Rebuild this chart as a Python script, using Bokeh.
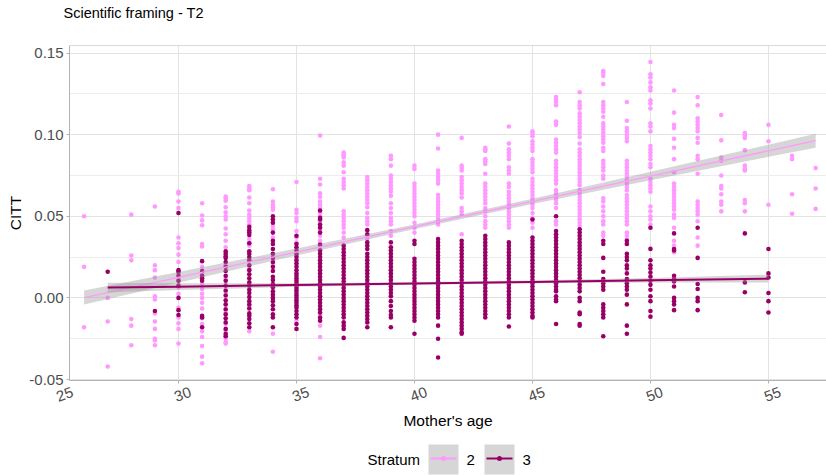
import math
from bokeh.plotting import figure
from bokeh.layouts import column
from bokeh.models import (ColumnDataSource, Span, FixedTicker, NumeralTickFormatter, Range1d,
                          LinearAxis)
from bokeh.core.properties import value
from bokeh.embed import file_html
from bokeh.resources import INLINE

# CITT values by mother's age, stratum 2
citt_stratum2 = {
    26: [0.050, 0.019, -0.018],
    27: [0.000, -0.0145, -0.042],
    28: [0.051, 0.026, 0.023, -0.013, -0.017, -0.029],
    29: [0.056, 0.020, 0.017, 0.0125, 0.001, -0.001, -0.0095, -0.0145, -0.019, -0.025, -0.026, -0.029],
    30: [0.065, 0.064, 0.059, 0.055, 0.037, 0.0335, 0.0305, 0.0265, 0.022, 0.0155, 0.0125, 0.0105,
         0.0065, 0.0025, -0.006, -0.012, -0.0155, -0.019, -0.028],
    31: [0.058, 0.0505, 0.0475, 0.0445, 0.033, 0.0315, 0.019, 0.015, 0.0115, 0.0085, 0.0055, 0.0025,
         0.0, -0.003, -0.0065, -0.0125, -0.016, -0.0205, -0.024, -0.0295, -0.036, -0.040],
    32: [0.062, 0.061, 0.0595, 0.0555, 0.0525, 0.050, 0.048, 0.0425, 0.039, 0.035, 0.031, 0.020,
         0.012, 0.003, -0.004, -0.009, -0.016, -0.020, -0.023, -0.025, -0.027, -0.028],
    33: [0.0685, 0.067, 0.066, 0.0615, 0.058, 0.0535, 0.051, 0.049, 0.047, 0.045, 0.036, 0.034,
         0.032, 0.018, 0.008, -0.005, -0.0205],
    34: [0.0665, 0.059, 0.057, 0.0555, 0.054, 0.044, 0.042, 0.037, 0.025, 0.021, 0.0, -0.022, -0.033],
    35: [0.071, 0.054, 0.052, 0.049, 0.047, 0.041, 0.037, 0.034, 0.026, 0.021, -0.014],
    36: [0.0995, 0.073, 0.0695, 0.064, 0.062, 0.059, 0.057, 0.055, 0.052, 0.050, 0.047, 0.044,
         0.041, 0.038, 0.035, 0.0335, 0.030, -0.010, -0.017, -0.024, -0.037],
    37: [0.089, 0.088, 0.087, 0.086, 0.083, 0.081, 0.077, 0.073, 0.071, 0.069, 0.067, 0.053,
         0.051, 0.049, 0.047, 0.045, 0.043, 0.040, 0.037],
    38: [0.074, 0.072, 0.070, 0.068, 0.066, 0.064, 0.062, 0.060, 0.058, 0.0555, 0.052, 0.049,
         0.047, 0.045, 0.038, 0.036],
    39: [0.087, 0.085, 0.081, 0.075, 0.073, 0.071, 0.069, 0.067, 0.065, 0.0625, 0.058, 0.055,
         0.052, 0.049, 0.047, 0.045, 0.041, 0.038],
    40: [0.081, 0.079, 0.070, 0.068, 0.066, 0.064, 0.062, 0.060, 0.058, 0.056, 0.054, 0.052,
         0.050, 0.046, 0.043, 0.040],
    41: [0.100, 0.0915, 0.078, 0.076, 0.074, 0.072, 0.070, 0.063, 0.061, 0.059, 0.057, 0.055,
         0.053, 0.051, 0.049, 0.047, 0.045],
    42: [0.098, 0.081, 0.0795, 0.078, 0.074, 0.072, 0.070, 0.068, 0.066, 0.064, 0.0615, 0.055,
         0.053, 0.051, 0.039],
    43: [0.092, 0.091, 0.090, 0.085, 0.0835, 0.082, 0.076, 0.070, 0.068, 0.066, 0.064, 0.062,
         0.060, 0.058, 0.055, 0.053, 0.050, 0.047, 0.045, 0.043],
    44: [0.105, 0.0945, 0.091, 0.089, 0.087, 0.085, 0.080, 0.078, 0.076, 0.070, 0.068, 0.065,
         0.063, 0.061, 0.059, 0.057, 0.055, 0.053, 0.051, 0.049, 0.047, 0.045, 0.043],
    45: [0.102, 0.1005, 0.099, 0.096, 0.094, 0.092, 0.090, 0.085, 0.083, 0.081, 0.079, 0.077,
         0.073, 0.071, 0.069, 0.067, 0.065, 0.063, 0.061, 0.059, 0.057, 0.055, 0.052, 0.049,
         0.046, 0.043],
    46: [0.123, 0.1215, 0.120, 0.118, 0.108, 0.106, 0.097, 0.095, 0.093, 0.091, 0.089, 0.084,
         0.082, 0.080, 0.078, 0.076, 0.074, 0.072, 0.070, 0.066, 0.064, 0.062, 0.060, 0.058,
         0.055, 0.047, 0.045],
    47: [0.126, 0.120, 0.118, 0.116, 0.113, 0.111, 0.109, 0.107, 0.105, 0.103, 0.101, 0.0985,
         0.0945, 0.091, 0.089, 0.087, 0.085, 0.083, 0.081, 0.079, 0.077, 0.075, 0.073, 0.071,
         0.069, 0.066, 0.064, 0.062, 0.060, 0.058, 0.056, 0.054, 0.052, 0.050, 0.048, 0.046, 0.044],
    48: [0.139, 0.138, 0.136, 0.131, 0.120, 0.118, 0.116, 0.114, 0.111, 0.107, 0.105, 0.103,
         0.101, 0.099, 0.097, 0.095, 0.092, 0.090, 0.084, 0.082, 0.080, 0.078, 0.075, 0.073,
         0.061, 0.059, 0.056, 0.053, 0.050, 0.047, 0.045, 0.040, 0.038],
    49: [0.120, 0.1085, 0.104, 0.102, 0.100, 0.098, 0.096, 0.084, 0.082, 0.080, 0.078, 0.076,
         0.074, 0.072, 0.070, 0.068, 0.066, 0.063, 0.061, 0.059, 0.057, 0.055, 0.053, 0.051,
         0.049, 0.047, 0.045, 0.040, 0.038, 0.036, 0.033],
    50: [0.1445, 0.137, 0.135, 0.132, 0.129, 0.127, 0.121, 0.119, 0.116, 0.107, 0.105, 0.102,
         0.093, 0.091, 0.089, 0.087, 0.085, 0.082, 0.080, 0.073, 0.071, 0.069, 0.067, 0.065,
         0.056, 0.053, 0.050, 0.048, 0.045],
    51: [0.127, 0.1135, 0.106, 0.104, 0.0975, 0.092, 0.085, 0.077, 0.070, 0.068, 0.066, 0.064,
         0.062, 0.060, 0.058, 0.056, 0.054, 0.051, 0.049, 0.043, 0.035, 0.032, 0.028],
    52: [0.123, 0.118, 0.110, 0.108, 0.106, 0.104, 0.102, 0.098, 0.095, 0.087, 0.085, 0.076,
         0.059, 0.057, 0.055, 0.053, 0.051, 0.047, 0.037, 0.032],
    53: [0.112, 0.0965, 0.086, 0.084, 0.075, 0.0685, 0.067, 0.0635, 0.059, 0.057, 0.053],
    54: [0.101, 0.0995, 0.098, 0.0905, 0.081, 0.079, 0.078, 0.060, 0.058, 0.053],
    55: [0.106, 0.096, 0.057],
    56: [0.087, 0.085, 0.0635, 0.0515],
    57: [0.0795, 0.067, 0.0545],
}

# CITT values by mother's age, stratum 3
citt_stratum3 = {
    27: [0.016],
    29: [-0.008],
    30: [0.052, 0.017, 0.016, 0.0135, 0.0105, 0.0075, 0.0, -0.0075, -0.0105],
    31: [0.0225, 0.0165, 0.0135, 0.012, 0.0105, -0.011, -0.012, -0.018],
    32: [0.0285, 0.027, 0.0255, 0.0245, 0.022, 0.019, 0.0165, 0.0135, 0.0105, 0.0075, 0.0045,
         0.0015, -0.0015, -0.004, -0.007, -0.010, -0.0125, -0.015, -0.019, -0.022, -0.0235],
    33: [0.0435, 0.0415, 0.040, 0.0385, 0.0335, 0.0285, 0.027, 0.025, 0.023, 0.020, 0.017,
         0.0145, 0.012, 0.0095, 0.0075, 0.005, 0.003, 0.0005, -0.002, -0.004, -0.0065, -0.0095,
         -0.011, -0.013, -0.0155, -0.018],
    34: [0.050, 0.048, 0.046, 0.040, 0.035, 0.033, 0.030, 0.027, 0.0245, 0.022, 0.019, 0.0165,
         0.013, 0.011, 0.0085, 0.0065, 0.004, 0.002, 0.0, -0.002, -0.0045, -0.007, -0.010,
         -0.012, -0.018],
    35: [0.038, 0.033, 0.031, 0.029, 0.027, 0.025, 0.023, 0.021, 0.019, 0.017, 0.015, 0.0135,
         0.012, 0.0105, 0.009, 0.0075, 0.006, 0.0045, 0.003, 0.0015, 0.0, -0.0015, -0.003,
         -0.0045, -0.006, -0.008, -0.010, -0.012, -0.016, -0.019],
    36: [0.0535, 0.049, 0.048, 0.045, 0.043, 0.040, 0.0325, 0.029, 0.027, 0.025, 0.023, 0.021,
         0.019, 0.017, 0.015, 0.013, 0.011, 0.009, 0.007, 0.005, 0.003, 0.001, -0.001, -0.003,
         -0.005, -0.007, -0.009, -0.012, -0.014],
    37: [0.032, 0.030, 0.028, 0.026, 0.024, 0.022, 0.020, 0.018, 0.016, 0.014, 0.012, 0.010,
         0.008, 0.006, 0.004, 0.002, 0.0, -0.002, -0.004, -0.006, -0.008, -0.010, -0.012,
         -0.015, -0.017, -0.019, -0.0245],
    38: [0.0415, 0.039, 0.034, 0.032, 0.030, 0.027, 0.025, 0.023, 0.021, 0.019, 0.017, 0.015,
         0.013, 0.011, 0.009, 0.007, 0.005, 0.003, 0.001, -0.001, -0.003, -0.005, -0.007,
         -0.009, -0.011, -0.013, -0.015, -0.018],
    39: [0.034, 0.031, 0.029, 0.027, 0.025, 0.023, 0.021, 0.019, 0.017, 0.015, 0.013, 0.011,
         0.009, 0.007, 0.005, 0.003, 0.001, -0.002, -0.005, -0.008, -0.0105, -0.012, -0.018],
    40: [0.035, 0.033, 0.024, 0.022, 0.020, 0.018, 0.016, 0.014, 0.012, 0.010, 0.008, 0.006,
         0.004, 0.002, 0.0, -0.002, -0.004, -0.006, -0.008, -0.010, -0.012, -0.014, -0.022],
    41: [0.036, 0.034, 0.032, 0.030, 0.028, 0.026, 0.024, 0.022, 0.020, 0.018, 0.016, 0.014,
         0.012, 0.010, 0.008, 0.006, 0.004, 0.002, 0.0, -0.002, -0.004, -0.006, -0.008, -0.010,
         -0.012, -0.017, -0.025, -0.0365],
    42: [0.035, 0.033, 0.031, 0.029, 0.027, 0.025, 0.023, 0.021, 0.019, 0.017, 0.015, 0.013,
         0.011, 0.009, 0.007, 0.005, 0.003, 0.001, -0.001, -0.003, -0.005, -0.007, -0.009,
         -0.011, -0.013, -0.015, -0.017, -0.019, -0.021, -0.022],
    43: [0.038, 0.036, 0.034, 0.032, 0.030, 0.028, 0.026, 0.024, 0.022, 0.020, 0.018, 0.016,
         0.014, 0.012, 0.010, 0.008, 0.006, 0.004, 0.002, 0.0, -0.002, -0.004, -0.006, -0.008,
         -0.010, -0.012],
    44: [0.034, 0.032, 0.030, 0.028, 0.026, 0.024, 0.022, 0.020, 0.018, 0.016, 0.014, 0.012,
         0.010, 0.008, 0.006, 0.004, 0.002, 0.0, -0.002, -0.004, -0.006, -0.008, -0.010, -0.012,
         -0.0175],
    45: [0.048, 0.037, 0.035, 0.033, 0.031, 0.029, 0.027, 0.025, 0.023, 0.021, 0.019, 0.017,
         0.015, 0.013, 0.011, 0.009, 0.007, 0.005, 0.003, 0.001, -0.001, -0.003, -0.005, -0.007,
         -0.009, -0.011, -0.012],
    46: [0.050, 0.041, 0.039, 0.037, 0.035, 0.033, 0.031, 0.029, 0.027, 0.025, 0.023, 0.021,
         0.019, 0.017, 0.015, 0.013, 0.011, 0.009, 0.007, 0.005, 0.004, 0.001, -0.001, -0.002,
         -0.016],
    47: [0.042, 0.040, 0.038, 0.036, 0.034, 0.032, 0.030, 0.028, 0.026, 0.024, 0.022, 0.020,
         0.018, 0.016, 0.014, 0.012, 0.010, 0.008, 0.006, 0.004, 0.0, -0.002, -0.009, -0.010,
         -0.016, -0.017],
    48: [0.035, 0.033, 0.0245, 0.016, 0.0115, 0.009, 0.007, 0.005, -0.004, -0.006, -0.008,
         -0.010, -0.012, -0.0235],
    49: [0.035, 0.033, 0.027, 0.025, 0.023, 0.020, 0.018, 0.015, 0.0115, 0.009, 0.007, 0.005,
         0.002, -0.004, -0.017, -0.022],
    50: [0.043, 0.030, 0.023, 0.020, 0.018, 0.0155, 0.013, 0.0105, 0.008, 0.005, 0.001, -0.002,
         -0.008, -0.0115],
    51: [0.0395, 0.030, 0.029, 0.0135, 0.0115, 0.010, 0.007, 0.0, -0.002, -0.004, -0.0075],
    52: [0.043, 0.0245, 0.0085, 0.0055, 0.0, -0.002, -0.0075],
    54: [0.0395, 0.0095, 0.0035],
    55: [0.030, 0.015, 0.0125, 0.003, -0.002, -0.009],
}

# Linear fits (geom_smooth, method = "lm") with 95% confidence band
fit2_age = [26, 30, 35, 40, 45, 50, 55, 57]
fit2_citt = [0.0002, 0.0126, 0.0281, 0.0436, 0.0591, 0.0746, 0.0901, 0.0963]
fit2_lower = [-0.0041, 0.0093, 0.0260, 0.0422, 0.0575, 0.0720, 0.0864, 0.0920]
fit2_upper = [0.0045, 0.0159, 0.0302, 0.0450, 0.0607, 0.0772, 0.0938, 0.1006]

fit3_age = [27, 30, 35, 40, 45, 50, 55]
fit3_citt = [0.0063, 0.0069, 0.0079, 0.0088, 0.0098, 0.0108, 0.0118]
fit3_lower = [0.0033, 0.0048, 0.0068, 0.0080, 0.0089, 0.0094, 0.0094]
fit3_upper = [0.0093, 0.0090, 0.0090, 0.0096, 0.0107, 0.0122, 0.0142]

x_ticks = [25, 30, 35, 40, 45, 50, 55]
y_ticks = [-0.05, 0.0, 0.05, 0.10, 0.15]
y_minor = [-0.025, 0.025, 0.075, 0.125]

strata = ["2", "3"]

PINK = "#FF99FF"
PLUM = "#990066"
FONT = "Liberation Sans"
X_START, X_END = 25.381, 57.46
Y_BOTTOM, Y_TOP = -0.0506, 0.1546
# tilted tick labels sit a little to the right of their ticks
LABEL_SHIFT = 0.51


def flatten(groups):
    ages, vals = [], []
    for age, values in groups.items():
        ages.extend([age] * len(values))
        vals.extend(values)
    return dict(age=ages, citt=vals)


def blank_strip(height):
    f = figure(width=826, height=height, output_backend="svg", toolbar_location=None,
               x_range=Range1d(69, 826), y_range=Range1d(0, height),
               x_axis_location=None, y_axis_location=None,
               min_border_left=0, min_border_right=0, min_border_top=0, min_border_bottom=0)
    f.grid.visible = False
    f.outline_line_color = None
    f.background_fill_color = "white"
    f.border_fill_color = "white"
    return f


# ---- title strip ----
head = blank_strip(45)
head.title.text = "Scientific framing - T2"
head.title.align = "left"
head.title.offset = -6
head.title.text_font = FONT
head.title.text_font_style = "normal"
head.title.text_font_size = "14.5px"
head.title.text_color = "#000000"
head.title.standoff = 4

# ---- main panel ----
p = figure(width=826, height=390, output_backend="svg", toolbar_location=None,
           x_range=Range1d(X_START, X_END), y_range=Range1d(Y_BOTTOM, Y_TOP),
           min_border_left=69, min_border_right=0, min_border_top=0, min_border_bottom=55)
p.background_fill_color = "white"
p.border_fill_color = "white"
p.outline_line_color = None

p.extra_x_ranges = {"labels": Range1d(X_START - LABEL_SHIFT, X_END - LABEL_SHIFT)}
label_axis = LinearAxis(x_range_name="labels")
p.add_layout(label_axis, "below")

for ax in (p.xaxis[0], p.yaxis[0], label_axis):
    ax.axis_line_color = "#b3b3b3"
    ax.major_tick_line_color = "#b3b3b3"
    ax.major_tick_out = 3
    ax.major_tick_in = 0
    ax.minor_tick_out = 0
    ax.minor_tick_in = 0
    ax.major_label_standoff = 3
    ax.major_label_text_color = "#4d4d4d"
    ax.major_label_text_font = FONT
    ax.major_label_text_font_size = "15px"
    ax.axis_label_text_font = FONT
    ax.axis_label_text_font_size = "15.5px"
    ax.axis_label_text_font_style = "normal"
    ax.axis_label_text_color = "#000000"

# bottom axis: line and ticks only
xa = p.xaxis[0]
xa.ticker = FixedTicker(ticks=x_ticks, minor_ticks=[])
xa.major_label_overrides = {t: "" for t in x_ticks}
xa.major_label_text_font_size = "1px"
xa.major_label_standoff = 0

# second bottom axis: tilted tick labels and the axis title
label_axis.ticker = FixedTicker(ticks=x_ticks, minor_ticks=[])
label_axis.axis_line_color = None
label_axis.major_tick_line_color = None
label_axis.major_tick_out = 0
label_axis.major_label_standoff = 8
label_axis.major_label_orientation = math.pi / 9
label_axis.axis_label = "Mother's age"
label_axis.axis_label_standoff = 2

p.yaxis.ticker = FixedTicker(ticks=y_ticks, minor_ticks=y_minor)
p.yaxis.formatter = NumeralTickFormatter(format="0.00")
p.yaxis.axis_label = "CITT"
p.yaxis.axis_label_standoff = 2

p.xgrid.grid_line_color = "#e3e3e3"
p.ygrid.grid_line_color = "#e3e3e3"
p.ygrid.minor_grid_line_color = "#ececec"

# top panel border
p.add_layout(Span(location=Y_TOP, dimension="width", line_color="#b3b3b3", line_width=1))

# points
src2 = ColumnDataSource(flatten(citt_stratum2))
src3 = ColumnDataSource(flatten(citt_stratum3))
p.scatter("age", "citt", source=src2, size=4.6, fill_color=PINK, line_color=None)
p.scatter("age", "citt", source=src3, size=4.6, fill_color=PLUM, line_color=None)

# smooths
p.varea(x=fit2_age, y1=fit2_lower, y2=fit2_upper, fill_color="#999999", fill_alpha=0.4)
p.line(fit2_age, fit2_citt, line_color=PINK, line_width=1.3)
p.varea(x=fit3_age, y1=fit3_lower, y2=fit3_upper, fill_color="#999999", fill_alpha=0.4)
p.line(fit3_age, fit3_citt, line_color=PLUM, line_width=2)

# ---- legend strip (pixel units) ----
lg = blank_strip(40)
lg.text(x=[367], y=[16], text=["Stratum"], text_font=value(FONT), text_font_size="15px",
        text_color="#000000", text_align="left", text_baseline="middle")
key_left = [428, 484]
key_colors = [PINK, PLUM]
for kx, col, lab in zip(key_left, key_colors, strata):
    lg.quad(left=[kx], right=[kx + 30], bottom=[1], top=[31], fill_color="#d6d6d6", line_color=None)
    lg.line(x=[kx + 2, kx + 28], y=[17, 17], line_color=col, line_width=2)
    lg.scatter(x=[kx + 15], y=[17], size=5, fill_color=col, line_color=None)
    lg.text(x=[kx + 38], y=[16], text=[lab], text_font=value(FONT), text_font_size="15px",
            text_color="#000000", text_align="left", text_baseline="middle")

layout = column(head, p, lg, spacing=0)
open("out.html", "w").write(file_html(layout, INLINE))
